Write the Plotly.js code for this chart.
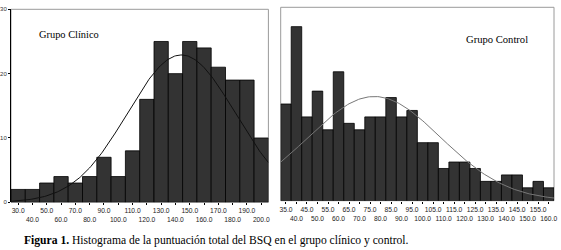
<!DOCTYPE html>
<html><head><meta charset="utf-8">
<script src="https://cdn.plot.ly/plotly-3.0.1.min.js"></script>
<style>html,body{margin:0;padding:0;background:#fff;}#chart{width:561px;height:250px;}</style>
</head><body><div id="chart"></div>
<script>
// Grupo Clínico: bin centres (width 10) and counts
const clinBins = [30,40,50,60,70,80,90,100,110,120,130,140,150,160,170,180,190,200];
const clinCounts = [2,2,3,4,3,4,7,4,8,16,25,20,25,24,21,19,19,10];
const clinWidth = 10;
// Grupo Control: bin centres (width 5) and counts
const ctrlBins = [35,40,45,50,55,60,65,70,75,80,85,90,95,100,105,110,115,120,125,130,135,140,145,150,155,160];
const ctrlCounts = [15,27,13,17,11,20,12,11,13,13,16,13,14,9,9,5,6,6,5,3,3,4,4,2,3,2];
const ctrlWidth = 5;
const yTicks = [0,10,20,30];

const lbl = v => v.toFixed(1);

// fitted normal curve from histogram mean and SD
function normalFit(bins, counts, w, x0, x1){
  const n = counts.reduce((a,b)=>a+b,0);
  const mean = bins.reduce((s,b,i)=>s+b*counts[i],0)/n;
  const sd = Math.sqrt(bins.reduce((s,b,i)=>s+counts[i]*(b-mean)**2,0)/(n-1));
  const xs=[], ys=[];
  for(let x=x0; x<=x1+1e-9; x+= (x1-x0)/200){
    xs.push(x);
    ys.push(n*w/(sd*Math.sqrt(2*Math.PI))*Math.exp(-0.5*((x-mean)/sd)**2));
  }
  return {xs, ys};
}
const clinLo = clinBins[0]-clinWidth/2, clinHi = clinBins[clinBins.length-1]+clinWidth/2;
const ctrlLo = ctrlBins[0]-ctrlWidth/2, ctrlHi = ctrlBins[ctrlBins.length-1]+ctrlWidth/2;
const cf = normalFit(clinBins, clinCounts, clinWidth, clinLo, clinHi);
const kf = normalFit(ctrlBins, ctrlCounts, ctrlWidth, ctrlLo, ctrlHi);

const odd = (arr)=>arr.filter((_,i)=>i%2===0);
const even = (arr)=>arr.filter((_,i)=>i%2===1);

const barStyle = {color:'#333333', line:{color:'#000', width:0.8}};
const data = [
  {type:'bar', x:clinBins, y:clinCounts, width:clinWidth, marker:barStyle, xaxis:'x', yaxis:'y', hoverinfo:'skip'},
  {type:'scatter', mode:'lines', x:cf.xs, y:cf.ys, line:{color:'#111', width:1}, xaxis:'x', yaxis:'y'},
  {type:'bar', x:ctrlBins, y:ctrlCounts, width:ctrlWidth, marker:barStyle, xaxis:'x2', yaxis:'y2', hoverinfo:'skip'},
  {type:'scatter', mode:'lines', x:kf.xs, y:kf.ys, line:{color:'#777', width:1}, xaxis:'x2', yaxis:'y2'},
  // invisible helpers so the second-row label axes get drawn
  {type:'scatter', mode:'markers', x:even(clinBins), y:even(clinBins).map(()=>0), marker:{opacity:0, size:1}, xaxis:'x3', yaxis:'y'},
  {type:'scatter', mode:'markers', x:even(ctrlBins), y:even(ctrlBins).map(()=>0), marker:{opacity:0, size:1}, xaxis:'x4', yaxis:'y2'}
];

const W=561, H=250;
const tickFont = {family:'Liberation Sans, Arial, sans-serif', size:6.7, color:'#222'};

const xBase = {showgrid:false, zeroline:false, ticks:'outside', ticklen:2, tickcolor:'#000', tickfont:tickFont, tickmode:'array', fixedrange:true};

const layout = {
  width:W, height:H, margin:{l:0,r:0,t:0,b:0}, showlegend:false,
  paper_bgcolor:'#fff', plot_bgcolor:'#fff', bargap:0,
  xaxis: Object.assign({}, xBase, {domain:[11/W, 268.4/W], range:[clinLo, clinHi], anchor:'y',
    tickvals: odd(clinBins), ticktext: odd(clinBins).map(lbl), showline:false}),
  xaxis3: Object.assign({}, xBase, {overlaying:'x', anchor:'y', side:'bottom', range:[clinLo, clinHi],
    tickvals: even(clinBins), ticktext: even(clinBins).map(lbl), ticklabelstandoff:9}),
  yaxis: {domain:[(H-202.3)/H, (H-9.3)/H], range:[0,30], anchor:'x', showgrid:false, zeroline:false,
    showline:true, linecolor:'#000', linewidth:1, ticks:'outside', ticklen:2, tickcolor:'#000',
    tickvals:yTicks, ticktext:yTicks.map(String), tickfont:{family:'Liberation Sans, Arial, sans-serif', size:6, color:'#333'}},
  xaxis2: Object.assign({}, xBase, {domain:[280.7/W, 554/W], range:[ctrlLo, ctrlHi], anchor:'y2',
    tickvals: odd(ctrlBins), ticktext: odd(ctrlBins).map(lbl)}),
  xaxis4: Object.assign({}, xBase, {overlaying:'x2', anchor:'y2', side:'bottom', range:[ctrlLo, ctrlHi],
    tickvals: even(ctrlBins), ticktext: even(ctrlBins).map(lbl), ticklabelstandoff:9}),
  yaxis2: {domain:[(H-200.7)/H, (H-7.3)/H], range:[0,30], anchor:'x2', showgrid:false, zeroline:false,
    showticklabels:false, ticks:''},
  shapes:[
    {type:'rect', xref:'x domain', yref:'y domain', x0:0, x1:1, y0:0, y1:1, line:{color:'#9a9a9a', width:1}, layer:'below'},
    {type:'rect', xref:'x2 domain', yref:'y2 domain', x0:0, x1:1, y0:0, y1:1, line:{color:'#9a9a9a', width:1}, layer:'below'}
  ],
  annotations:[
    {text:'Grupo Clínico', xref:'paper', yref:'paper', x:37/W, y:(H-34)/H, xanchor:'left', yanchor:'middle', showarrow:false,
      font:{family:'Liberation Serif, Times New Roman, serif', size:10.4, color:'#000'}},
    {text:'Grupo Control', xref:'paper', yref:'paper', x:464/W, y:(H-39)/H, xanchor:'left', yanchor:'middle', showarrow:false,
      font:{family:'Liberation Serif, Times New Roman, serif', size:10.6, color:'#000'}},
    {text:'<b>Figura 1.</b> Histograma de la puntuación total del BSQ en el grupo clínico y control.', xref:'paper', yref:'paper',
      x:22/W, y:(H-240)/H, xanchor:'left', yanchor:'middle', showarrow:false,
      font:{family:'Liberation Serif, Times New Roman, serif', size:11.6, color:'#000'}}
  ]
};
Plotly.newPlot('chart', data, layout, {staticPlot:true, displayModeBar:false});
</script></body></html>
